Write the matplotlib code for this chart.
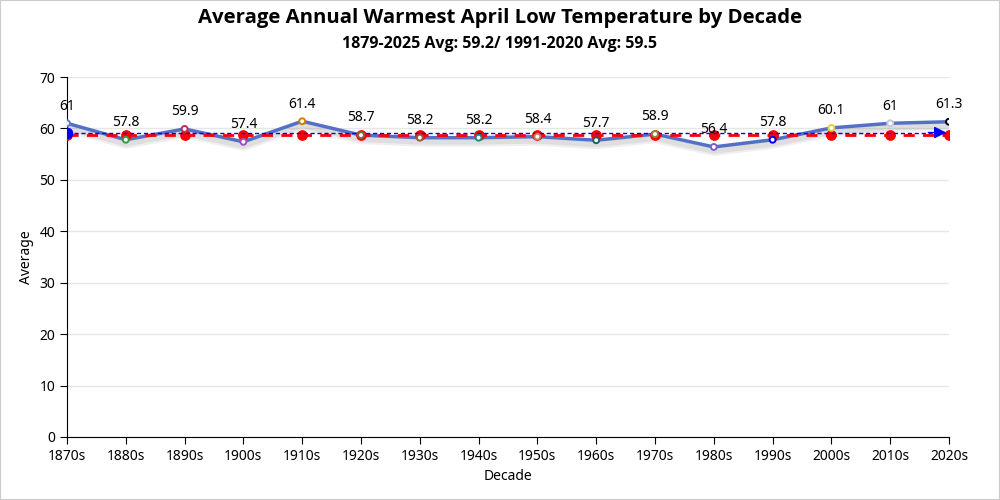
import matplotlib.pyplot as plt
import matplotlib.patheffects as pe

plt.rcParams['font.family'] = ['Noto Sans', 'DejaVu Sans']

# decade averages
decades = ['1870s', '1880s', '1890s', '1900s', '1910s', '1920s', '1930s', '1940s',
           '1950s', '1960s', '1970s', '1980s', '1990s', '2000s', '2010s', '2020s']
averages = [61, 57.8, 59.9, 57.4, 61.4, 58.7, 58.2, 58.2, 58.4, 57.7, 58.9, 56.4, 57.8, 60.1, 61, 61.3]
marker_colors = ['#5b7be0', '#3a9a3a', '#c0304a', '#a050c0', '#d08000', '#7a6a50', '#8a6040',
                 '#2a8080', '#c08060', '#1f5f5f', '#8a8a40', '#8060c0', '#0000e0', '#e0d040',
                 '#c8c8d8', '#000000']
long_avg = 59.2    # 1879-2025
normal_avg = 58.8  # red reference line

fig = plt.figure(figsize=(10, 5), dpi=100)
ax = fig.add_axes([0.067, 0.126, 0.882, 0.72])
x = list(range(len(decades)))

ax.plot(x, averages, color='#5470c6', linewidth=2.5, zorder=3,
        path_effects=[pe.SimpleLineShadow(offset=(0, -3), shadow_color='gray', alpha=0.12, linewidth=7),
                      pe.SimpleLineShadow(offset=(0, -3), shadow_color='gray', alpha=0.15, linewidth=4),
                      pe.Normal()])
ax.scatter(x, averages, s=18, facecolor='white', edgecolors=marker_colors, linewidths=1.4, zorder=5)

ax.plot(x, [normal_avg] * len(x), color='red', linestyle=(0, (4, 3)), linewidth=2, zorder=4)
ax.scatter(x, [normal_avg] * len(x), s=45, color='red', zorder=4)

ax.plot(x, [long_avg] * len(x), color='blue', linestyle=(0, (3, 2)), linewidth=1, zorder=4)
ax.scatter([x[0]], [long_avg], s=55, color='blue', zorder=6)
ax.annotate('', xy=(x[-1], long_avg), xytext=(x[-1] - 0.4, long_avg),
            arrowprops=dict(arrowstyle='-|>', color='blue', lw=1, mutation_scale=18), zorder=6)

for xi, v in zip(x, averages):
    ax.annotate(f'{v:g}', (xi, v), xytext=(0, 7), textcoords='offset points',
                ha='center', va='bottom', fontsize=10, zorder=7)

ax.set_xlim(0, len(x) - 1)
ax.set_ylim(0, 70)
ax.set_yticks(range(0, 71, 10))
ax.set_xticks(x)
ax.set_xticklabels(decades)
ax.tick_params(labelsize=10, length=5, color='black')
ax.grid(axis='y', color='#e6e6e6', linewidth=1)
ax.set_axisbelow(True)
for side in ['top', 'right']:
    ax.spines[side].set_visible(False)
ax.set_xlabel('Decade', fontsize=10)
ax.set_ylabel('Average', fontsize=10)

fig.text(0.5, 0.965, 'Average Annual Warmest April Low Temperature by Decade',
         ha='center', va='center', fontsize=14.7, fontweight='bold', family=['Open Sans', 'DejaVu Sans'])
fig.text(0.5, 0.912, '1879-2025 Avg: 59.2/ 1991-2020 Avg: 59.5',
         ha='center', va='center', fontsize=11.5, fontweight='bold', family=['Open Sans', 'DejaVu Sans'])

fig.patches.append(plt.Rectangle((0, 0), 1, 1, transform=fig.transFigure,
                                 fill=False, edgecolor='#cccccc', linewidth=1.5))
fig.savefig('out.png', dpi=100)
